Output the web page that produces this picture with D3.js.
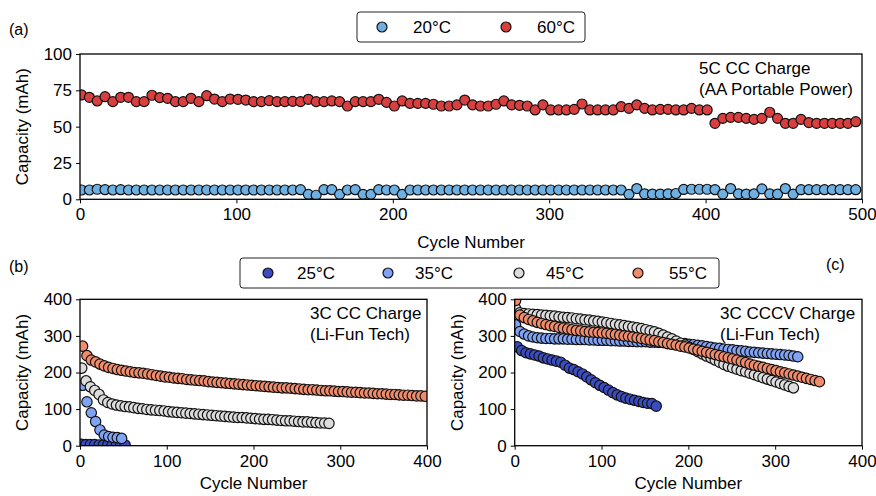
<!DOCTYPE html>
<html>
<head>
<meta charset="utf-8">
<script src="https://cdn.jsdelivr.net/npm/d3@7"></script>
<style>
  body { margin: 0; background: #fff; }
  text { font-family: "Liberation Sans", Arial, Helvetica, sans-serif; fill: #000; }
</style>
</head>
<body>
<script>
// ---- panel (a): 5C CC charge, AA Portable Power, one point every 5 cycles from cycle 1
const aCycleStart = 1, aCycleStep = 5;
const cap20 = [6.4,6.4,6.9,6.6,6.4,6.6,6.4,6.4,6.4,6.4, 6.4,6.4,6.4,6.4,6.4,6.4,6.4,6.4,6.4,6.4,
  6.4,6.4,6.4,6.4,6.4,6.4,6.4,6.4,6.6,3.4, 2.8,6.6,6.6,3.4,6.4,6.6,3.4,3.4,6.6,6.4,
  6.4,3.4,6.4,6.4,6.4,6.4,6.4,6.4,6.4,6.4, 6.4,6.4,6.4,6.4,6.4,6.4,6.4,6.4,6.4,6.4,
  6.4,6.4,6.4,6.4,6.4,6.4,6.4,6.4,6.4,6.4, 3.4,7.4,3.8,3.6,3.6,3.8,4.0,6.8,6.9,6.9,
  6.9,6.6,3.6,7.4,3.8,3.6,3.8,7.2,3.8,3.6, 7.4,3.6,6.6,6.6,6.6,6.6,6.6,6.6,6.6,6.6];
const cap60 = [71.8,70.2,67.7,70.6,67.2,70.2,70.2,67.2,67.2,71.6, 70,69.5,67.2,67.2,69.5,67.2,71.3,69,67.2,69,
  68.8,68.3,67.2,67.2,67.9,67.2,67.2,67.4,67.2,68.8, 67.2,67.2,67.7,67.2,64.2,67.2,67.2,67.2,68.8,66.7,
  64.2,67.7,66,66,66,65.4, 64.2,64.2,65,68.3, 65,64.2,64.2,65.4,67.7,65,64.7,64.2,61.5,65,
  61.5,61.5,61.5,61.9,65.6,61.5,61.5,61.5,61.5,63.8, 62.6,65,62.6,61.5,61.9,61.9,61.5,61.5,62.6,61.5,
  61.5,52.3,55.7,56.4,56.4,55.7,55,55.7,59.9,55.7, 52.3,52.3,55,52.8,52.3,52.3,52.3,52.3,52.3,53.4];

// ---- panel (b): 3C CC charge, Li-Fun Tech
const b25Start = 2, b25 = [4,3,3,3,2,2,2,2,2,2,2];
const b35Start = 3, b35 = [165,120,90,66,43,29,25,23,22,20];
const b45Start = 2, b45 = [212,177,161,151,140,125,118,114,111,109, 107,106,104,102,101,99,98,97,96,95,
  93,92,91,90,89,88,87,86,85,84, 83,82,81,80,79,78,77,77,76,75,
  74,73,72,72,71,70,69,68,68,67, 66,65,65,64,63,62,62,61];
const b55Start = 3, b55 = [272,246,234,229,223,218,214,211,208,206, 204,202,200,199,198,196,194,192,190,188,
  187,185,184,183,181,180,179,178,177,175, 174,173,172,171,170,169,168,167,166,165,
  164,163,162,161,160,159,158,158,157,156, 155,154,153,153,152,151,150,150,149,148,
  148,147,146,146,145,144,144,143,142,142, 141,140,140,139,138,138,137,136,136,135];

// ---- panel (c): 3C CCCV charge, Li-Fun Tech
const c25Start = 3, c25 = [270,260,254,251,248,245,240,237,234,231, 228,220,212,208,202,196,188,180,172,165,
  159,152,145,139,134,130,127,124,121,118, 116,115,108];
const c35Start = 1, c35 = [330,312,305,300,297,295,294,293,293,292, 292,292,291,291,290,290,290,289,289,288,
  288,288,287,287,286,286,285,285,284,284, 284,283,283,282,282,281,281,280,280,279,
  277,276,274,273,271,269,267,266,264,263, 262,260,259,258,256,255,254,253,252,251,
  250,249,248,247,245,243];
const c45Start = 1, c45 = [375,363,361,360,359,358,357,356,355,354, 352,351,350,349,347,346,344,343,341,340,
  338,336,334,332,330,328,326,324,322,320, 317,314,311,307,302,297,292,286,280,275,
  269,263,257,251,245,240,234,228,222,217, 213,209,205,202,198,194,190,186,182,178,
  174,170,166,162,158];
const c55Start = 1, c55 = [397,357,350,345,341,337,334,331,328,326, 323,321,319,317,315,314,312,311,310,309,
  308,307,305,304,302,300,299,297,295,293, 291,289,287,284,282,279,277,275,272,270,
  267,264,261,258,255,252,249,246,243,240, 237,234,230,227,223,220,217,214,211,208,
  205,202,199,196,193,190,187,184,181,178, 175];
const cycleStep = 5;

const aLabels = ["20\u00b0C", "60\u00b0C"];
const bLabels = ["25\u00b0C", "35\u00b0C", "45\u00b0C", "55\u00b0C"];
const aColors = ["#6fb0e3", "#d93f3f"];
const bColors = ["#3b4cc0", "#80a3f6", "#dcdcdc", "#f08b6c"];

const W = 876, H = 496;
const FONT = 17;

const svg = d3.select("body").append("svg")
    .attr("width", W)
    .attr("height", H);

function toPoints(vals, start, step) {
    return vals.map((v, i) => ({ cycle: start + i * step, cap: v }));
}

let clipId = 0;
function drawPanel(box, xMax, yMax, yTicks, series, r, note, noteX, xTitleGap) {
    const x = d3.scaleLinear().domain([0, xMax]).range([box.left, box.right]);
    const y = d3.scaleLinear().domain([0, yMax]).range([box.bottom, box.top]);
    const g = svg.append("g");

    const id = "clip" + (clipId++);
    g.append("clipPath").attr("id", id)
        .append("rect")
        .attr("x", box.left).attr("y", box.top)
        .attr("width", box.right - box.left).attr("height", box.bottom - box.top);

    const xAxis = g.append("g")
        .attr("transform", `translate(0,${box.bottom})`)
        .call(d3.axisBottom(x).ticks(xMax / 100).tickSize(4).tickSizeOuter(0).tickPadding(5));
    const yAxis = g.append("g")
        .attr("transform", `translate(${box.left},0)`)
        .call(d3.axisLeft(y).tickValues(yTicks).tickSize(4).tickSizeOuter(0).tickPadding(4));
    [xAxis, yAxis].forEach(ax => {
        ax.select(".domain").remove();
        ax.selectAll(".tick line").attr("stroke", "#000").attr("stroke-width", 1);
        ax.selectAll(".tick text").attr("font-size", FONT)
            .attr("font-family", "Liberation Sans, Arial, sans-serif").attr("fill", "#000");
    });

    const marks = g.append("g").attr("clip-path", `url(#${id})`);
    series.forEach(s => {
        marks.append("g").selectAll("circle")
            .data(s.points)
            .join("circle")
            .attr("cx", d => x(d.cycle))
            .attr("cy", d => y(d.cap))
            .attr("r", r)
            .attr("fill", s.color)
            .attr("stroke", "#111")
            .attr("stroke-width", 1.2);
    });

    g.append("rect")
        .attr("x", box.left).attr("y", box.top)
        .attr("width", box.right - box.left).attr("height", box.bottom - box.top)
        .attr("fill", "none").attr("stroke", "#000").attr("stroke-width", 1.3);

    // axis titles
    g.append("text")
        .attr("x", (box.left + box.right) / 2)
        .attr("y", box.bottom + xTitleGap)
        .attr("text-anchor", "middle")
        .attr("font-size", FONT)
        .text("Cycle Number");
    g.append("text")
        .attr("transform", `translate(${box.left - 52},${(box.top + box.bottom) / 2}) rotate(-90)`)
        .attr("text-anchor", "middle")
        .attr("font-size", FONT)
        .text("Capacity (mAh)");

    const nt = g.append("text").attr("font-size", FONT);
    note.forEach((line, i) => {
        nt.append("tspan").attr("x", noteX).attr("y", box.top + 20 + i * 21).text(line);
    });
}

function drawLegend(x0, y0, w, h, labels, colors, markX, textX) {
    const lg = svg.append("g");
    lg.append("rect")
        .attr("x", x0).attr("y", y0).attr("width", w).attr("height", h)
        .attr("rx", 3)
        .attr("fill", "#fff").attr("stroke", "#222").attr("stroke-width", 1);
    labels.forEach((lab, i) => {
        lg.append("circle")
            .attr("cx", markX[i]).attr("cy", y0 + h / 2)
            .attr("r", 5)
            .attr("fill", colors[i]).attr("stroke", "#111").attr("stroke-width", 1.2);
        lg.append("text")
            .attr("x", textX[i]).attr("y", y0 + h / 2 + 6)
            .attr("font-size", FONT)
            .text(lab);
    });
}

// panel (a)
drawPanel({ left: 80, right: 862, top: 54, bottom: 199.3 }, 500, 100, [0, 25, 50, 75, 100],
    [
        { color: aColors[0], points: toPoints(cap20, aCycleStart, aCycleStep) },
        { color: aColors[1], points: toPoints(cap60, aCycleStart, aCycleStep) }
    ], 5, ["5C CC Charge", "(AA Portable Power)"], 699, 49);

// panel (b)
drawPanel({ left: 80, right: 427, top: 299.3, bottom: 445.7 }, 400, 400, [0, 100, 200, 300, 400],
    [
        { color: bColors[0], points: toPoints(b25, b25Start, cycleStep) },
        { color: bColors[1], points: toPoints(b35, b35Start, cycleStep) },
        { color: bColors[2], points: toPoints(b45, b45Start, cycleStep) },
        { color: bColors[3], points: toPoints(b55, b55Start, cycleStep) }
    ], 5.2, ["3C CC Charge", "(Li-Fun Tech)"], 310, 43);

// panel (c)
drawPanel({ left: 514.7, right: 862, top: 299.3, bottom: 445.7 }, 400, 400, [0, 100, 200, 300, 400],
    [
        { color: bColors[0], points: toPoints(c25, c25Start, cycleStep) },
        { color: bColors[1], points: toPoints(c35, c35Start, cycleStep) },
        { color: bColors[2], points: toPoints(c45, c45Start, cycleStep) },
        { color: bColors[3], points: toPoints(c55, c55Start, cycleStep) }
    ], 5.2, ["3C CCCV Charge", "(Li-Fun Tech)"], 720, 43);

drawLegend(357, 12, 228, 30, aLabels, aColors, [382, 506], [413, 537]);
drawLegend(240, 258, 479, 30, bLabels, bColors, [268, 388, 519, 638], [297, 415, 546, 669]);

// panel letters
[["(a)", 9, 35], ["(b)", 9, 272], ["(c)", 826, 270]].forEach(([t, px, py]) => {
    svg.append("text").attr("x", px).attr("y", py).attr("font-size", 16).text(t);
});
</script>
</body>
</html>
